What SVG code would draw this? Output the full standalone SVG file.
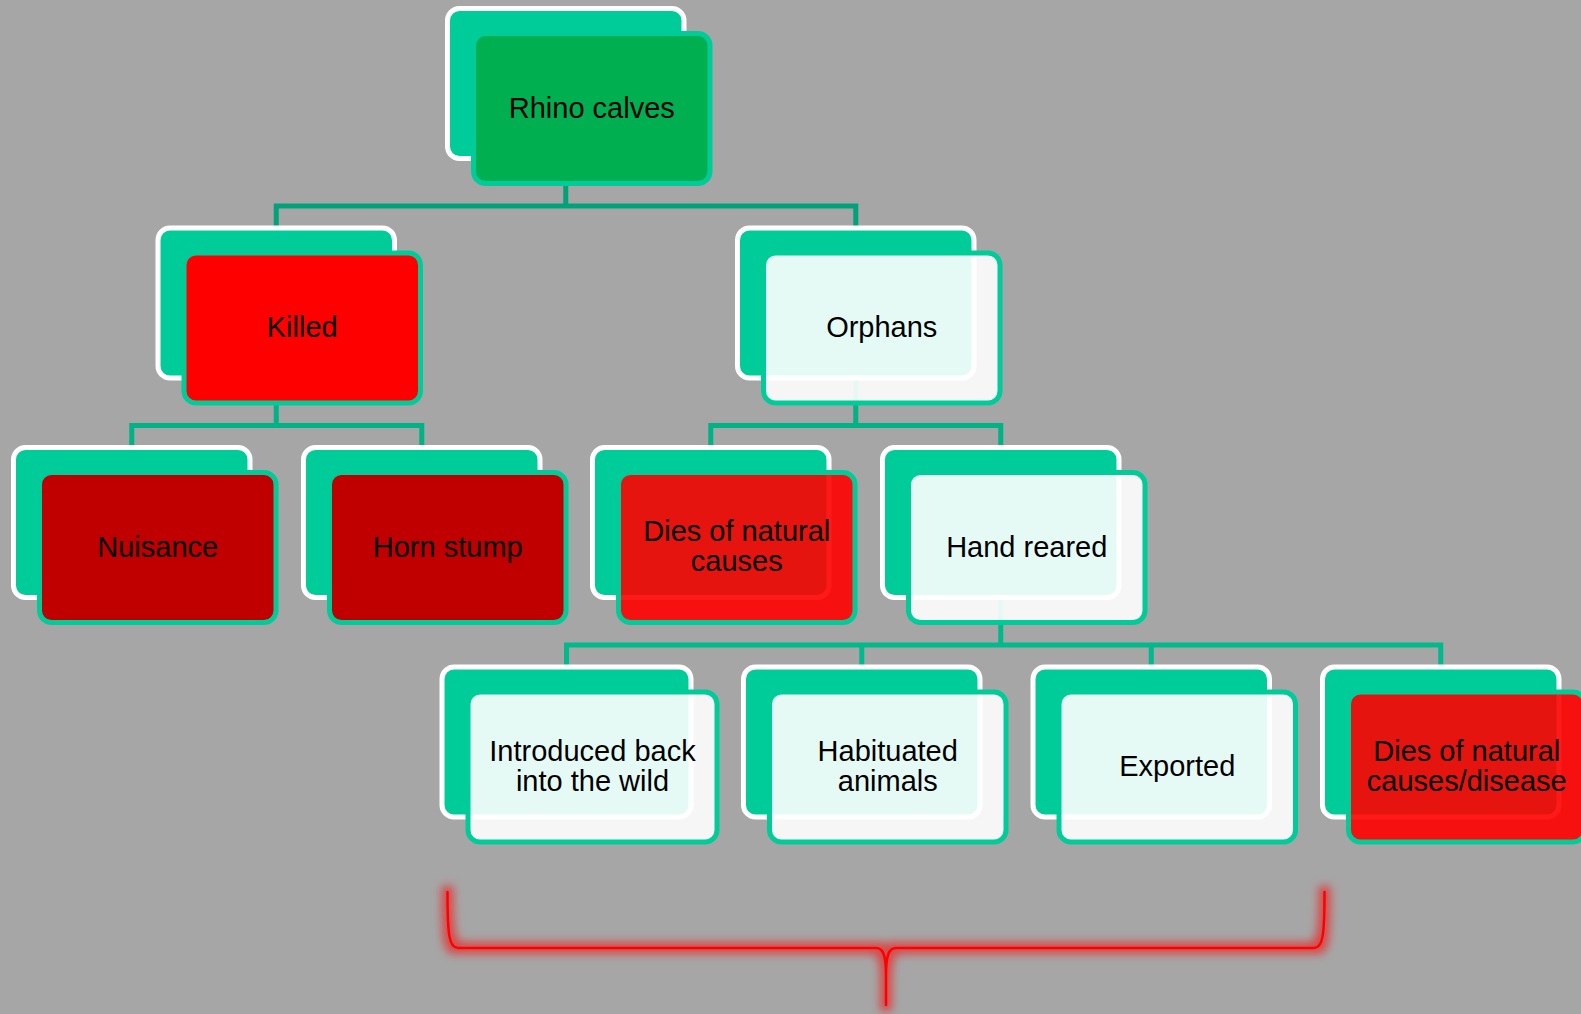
<svg xmlns="http://www.w3.org/2000/svg" width="1581" height="1014" viewBox="0 0 1581 1014">
<defs>
<style>
.back{fill:#00CC99;stroke:#FFFFFF;stroke-width:5}
.front{stroke:#00CC99;stroke-width:5}
.green{fill:#00B050}
.red{fill:#FF0000}
.dark{fill:#C00000}
.tred{fill:#FF0000;fill-opacity:0.9}
.white{fill:#FFFFFF;fill-opacity:0.9}
.lbl{font-family:"Liberation Sans",Arial,sans-serif;font-size:29px;fill:#000000;text-anchor:middle}
.conn{fill:none;stroke-width:5;stroke-linejoin:miter}
.brace{fill:none;stroke:#FF0000;stroke-width:2.5;stroke-linecap:round;stroke-linejoin:round}
</style>
<filter id="glow" x="-5%" y="-25%" width="110%" height="150%">
<feMorphology in="SourceAlpha" operator="dilate" radius="4.5" result="d"/>
<feGaussianBlur in="d" stdDeviation="4" result="b"/>
<feFlood flood-color="#FF0000" flood-opacity="0.55"/>
<feComposite in2="b" operator="in" result="g"/>
<feMerge><feMergeNode in="g"/><feMergeNode in="SourceGraphic"/></feMerge>
</filter>
</defs>
<rect x="0" y="0" width="1581" height="1014" fill="#A6A6A6"/>

<g id="connectors">
<path class="conn" stroke="#00A27A" d="M276.25 228 V206 H855.75 V228 M565.75 84 V206"/>
<path class="conn" stroke="#00B386" d="M131.75 447.5 V425.5 H421.75 V447.5 M276.25 303 V425.5"/>
<path class="conn" stroke="#00B386" d="M710.75 447.5 V425.5 H1000.75 V447.5 M855.75 303 V425.5"/>
<path class="conn" stroke="#00BA8C" d="M566.5 667 V645 H1440.75 V667 M861.75 645 V667 M1151.25 645 V667 M1000.75 522 V645"/>
</g>

<g id="node-rhino-calves">
<rect class="back" x="447.5" y="8.5" width="236.5" height="150" rx="12"/>
<rect class="front green" x="473.5" y="33.5" width="236.5" height="150" rx="12"/>
<text class="lbl" x="591.75" y="117.5">Rhino calves</text>
</g>

<g id="node-killed">
<rect class="back" x="158" y="228" width="236.5" height="150" rx="12"/>
<rect class="front red" x="184" y="253" width="236.5" height="150" rx="12"/>
<text class="lbl" x="302.25" y="337">Killed</text>
</g>

<g id="node-orphans">
<rect class="back" x="737.5" y="228" width="236.5" height="150" rx="12"/>
<rect class="front white" x="763.5" y="253" width="236.5" height="150" rx="12"/>
<text class="lbl" x="881.75" y="337">Orphans</text>
</g>

<g id="node-nuisance">
<rect class="back" x="13.5" y="447.5" width="236.5" height="150" rx="12"/>
<rect class="front dark" x="39.5" y="472.5" width="236.5" height="150" rx="12"/>
<text class="lbl" x="157.75" y="556.5">Nuisance</text>
</g>

<g id="node-horn-stump">
<rect class="back" x="303.5" y="447.5" width="236.5" height="150" rx="12"/>
<rect class="front dark" x="329.5" y="472.5" width="236.5" height="150" rx="12"/>
<text class="lbl" x="447.75" y="556.5">Horn stump</text>
</g>

<g id="node-dies-natural-causes">
<rect class="back" x="592.5" y="447.5" width="236.5" height="150" rx="12"/>
<rect class="front tred" x="618.5" y="472.5" width="236.5" height="150" rx="12"/>
<text class="lbl" x="736.75" y="541">Dies of natural</text>
<text class="lbl" x="736.75" y="571">causes</text>
</g>

<g id="node-hand-reared">
<rect class="back" x="882.5" y="447.5" width="236.5" height="150" rx="12"/>
<rect class="front white" x="908.5" y="472.5" width="236.5" height="150" rx="12"/>
<text class="lbl" x="1026.75" y="556.5">Hand reared</text>
</g>

<g id="node-introduced">
<rect class="back" x="442" y="667" width="249" height="150" rx="12"/>
<rect class="front white" x="468" y="692" width="249" height="150" rx="12"/>
<text class="lbl" x="592.5" y="760.5">Introduced back</text>
<text class="lbl" x="592.5" y="790.5">into the wild</text>
</g>

<g id="node-habituated">
<rect class="back" x="743.5" y="667" width="236.5" height="150" rx="12"/>
<rect class="front white" x="769.5" y="692" width="236.5" height="150" rx="12"/>
<text class="lbl" x="887.75" y="760.5">Habituated</text>
<text class="lbl" x="887.75" y="790.5">animals</text>
</g>

<g id="node-exported">
<rect class="back" x="1033" y="667" width="236.5" height="150" rx="12"/>
<rect class="front white" x="1059" y="692" width="236.5" height="150" rx="12"/>
<text class="lbl" x="1177.25" y="776">Exported</text>
</g>

<g id="node-dies-disease">
<rect class="back" x="1322.5" y="667" width="236.5" height="150" rx="12"/>
<rect class="front tred" x="1348.5" y="692" width="236.5" height="150" rx="12"/>
<text class="lbl" x="1466.75" y="760.5">Dies of natural</text>
<text class="lbl" x="1466.75" y="790.5">causes/disease</text>
</g>

<g id="brace" filter="url(#glow)">
<path class="brace" d="M447.5 892 C447.5 935 449 948 458 948 L876 948 C883 948 886 955 886 975 L886 1005 M886 1005 L886 975 C886 955 889 948 896 948 L1314 948 C1323 948 1324.5 935 1324.5 892"/>
</g>
</svg>
